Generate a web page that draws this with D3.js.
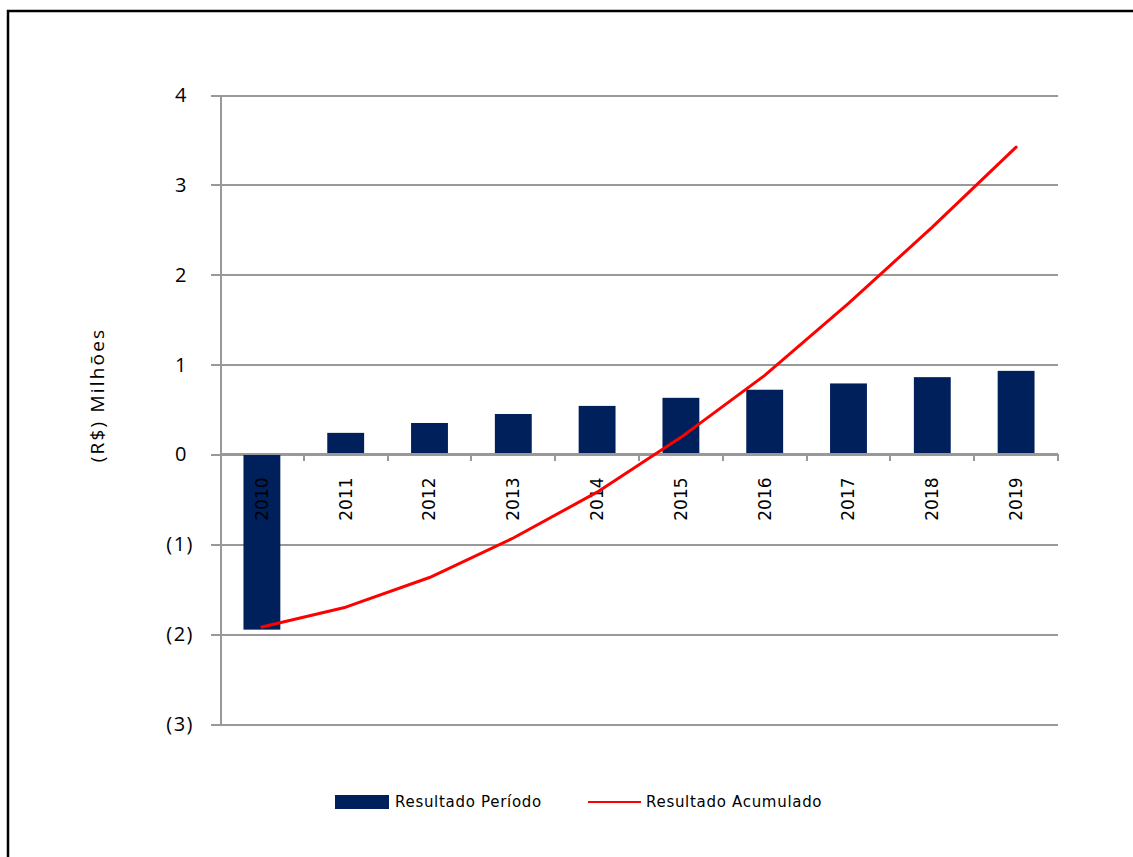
<!DOCTYPE html>
<html lang="pt">
<head>
    <meta charset="utf-8">
    <title>Resultado</title>
    <script src="https://d3js.org/d3.v7.min.js" charset="utf-8"></script>
    <style>
        body { margin: 0; background: #fff; }
        .grid line, .grid path { stroke: #999; stroke-width: 2; shape-rendering: crispEdges; }
        .ylab text { font-family: "Open Sans", sans-serif; font-size: 20px; fill: #000; letter-spacing: 1.5px; }
        .xlab text { font-family: "DejaVu Sans", sans-serif; font-size: 17px; fill: #000; }
        .legend text { font-family: "DejaVu Sans", sans-serif; font-size: 15px; fill: #000; letter-spacing: 0.7px; }
    </style>
</head>
<body>
<script>
    var years = ["2010","2011","2012","2013","2014","2015","2016","2017","2018","2019"]
    var periodo = [-1.95, 0.24, 0.35, 0.45, 0.54, 0.63, 0.72, 0.79, 0.86, 0.93]
    var acumulado = [-1.92, -1.70, -1.37, -0.93, -0.42, 0.19, 0.88, 1.68, 2.53, 3.42]
    var yTicks = [-3, -2, -1, 0, 1, 2, 3, 4]
    var seriesNames = ["Resultado Período", "Resultado Acumulado"]
    var yTitle = "(R$) Milhões"

    var w = 1133, h = 857
    var plotLeft = 220, plotRight = 1058, plotTop = 95, plotBottom = 724

    var svg = d3.select("body").append("svg").attr("width", w).attr("height", h)

    // outer frame (right and bottom edges fall outside the picture)
    svg.append("rect").attr("x", 8).attr("y", 11).attr("width", 1200).attr("height", 1000)
        .attr("fill", "none").attr("stroke", "#000").attr("stroke-width", 2.5)

    var x = d3.scaleBand().domain(years).range([plotLeft, plotRight]).paddingInner(0.56).paddingOuter(0.28)
    var y = d3.scaleLinear().domain([-3, 4]).range([plotBottom, plotTop])
    var step = x.step()

    // gridlines + y axis line
    svg.append("g").attr("class", "grid")
        .attr("transform", "translate(" + plotLeft + ",0)")
        .call(d3.axisLeft(y).tickValues(yTicks).tickSize(-(plotRight - plotLeft)).tickFormat(""))
        .call(function(g) { g.select(".domain").remove() })
    svg.append("g").attr("class", "grid")
        .attr("transform", "translate(" + plotLeft + ",0)")
        .call(d3.axisLeft(y).tickValues(yTicks).tickSize(9).tickSizeOuter(0).tickFormat(""))

    // y labels, excel style: negatives in parentheses
    var ylab = svg.append("g").attr("class", "ylab")
    ylab.selectAll("text").data(yTicks).join("text")
        .attr("x", function(d) { return d < 0 ? 194 : 188 })
        .attr("y", function(d) { return y(d) })
        .attr("dy", "0.35em")
        .attr("text-anchor", "end")
        .text(function(d) { return d < 0 ? "(" + Math.abs(d) + ")" : d })

    svg.append("text")
        .attr("transform", "translate(104," + 395 + ") rotate(-90)")
        .attr("text-anchor", "middle")
        .style("font-family", "'Open Sans', sans-serif").style("font-size", "19px")
        .style("letter-spacing", "2.2px").attr("fill", "#000")
        .text(yTitle)

    // bars
    svg.append("g").selectAll("rect").data(periodo).join("rect")
        .attr("x", function(d, i) { return x(years[i]) })
        .attr("width", x.bandwidth())
        .attr("y", function(d) { return y(Math.max(0, d)) })
        .attr("height", function(d) { return Math.abs(y(d) - y(0)) })
        .attr("fill", "#00205c")

    // category axis at zero
    var xg = svg.append("g").attr("class", "grid")
    xg.append("line").attr("x1", plotLeft).attr("x2", plotRight).attr("y1", y(0)).attr("y2", y(0))
    xg.selectAll(".tk").data(years).join("line").attr("class", "tk")
        .attr("x1", function(d) { return x(d) + x.bandwidth() / 2 + step / 2 })
        .attr("x2", function(d) { return x(d) + x.bandwidth() / 2 + step / 2 })
        .attr("y1", y(0)).attr("y2", y(0) + 7)

    var xlab = svg.append("g").attr("class", "xlab")
    xlab.selectAll("text").data(years).join("text")
        .attr("transform", function(d) { return "translate(" + (x(d) + x.bandwidth() / 2) + "," + (y(0) + 23) + ") rotate(-90)" })
        .attr("text-anchor", "end")
        .attr("dy", "0.35em")
        .text(function(d) { return d })

    // accumulated line
    var line = d3.line()
        .x(function(d, i) { return x(years[i]) + x.bandwidth() / 2 })
        .y(function(d) { return y(d) })
    svg.append("path").datum(acumulado).attr("d", line)
        .attr("fill", "none").attr("stroke", "#ff0000").attr("stroke-width", 3)
        .attr("stroke-linejoin", "round").attr("stroke-linecap", "round")

    // legend
    var lg = svg.append("g").attr("class", "legend")
    lg.append("rect").attr("x", 335).attr("y", 795).attr("width", 54).attr("height", 14).attr("fill", "#00205c")
    lg.append("text").attr("x", 395).attr("y", 802).attr("dy", "0.35em").text(seriesNames[0])
    lg.append("line").attr("x1", 588).attr("x2", 641).attr("y1", 802).attr("y2", 802)
        .attr("stroke", "#ff0000").attr("stroke-width", 2)
    lg.append("text").attr("x", 646).attr("y", 802).attr("dy", "0.35em").text(seriesNames[1])
</script>
</body>
</html>
